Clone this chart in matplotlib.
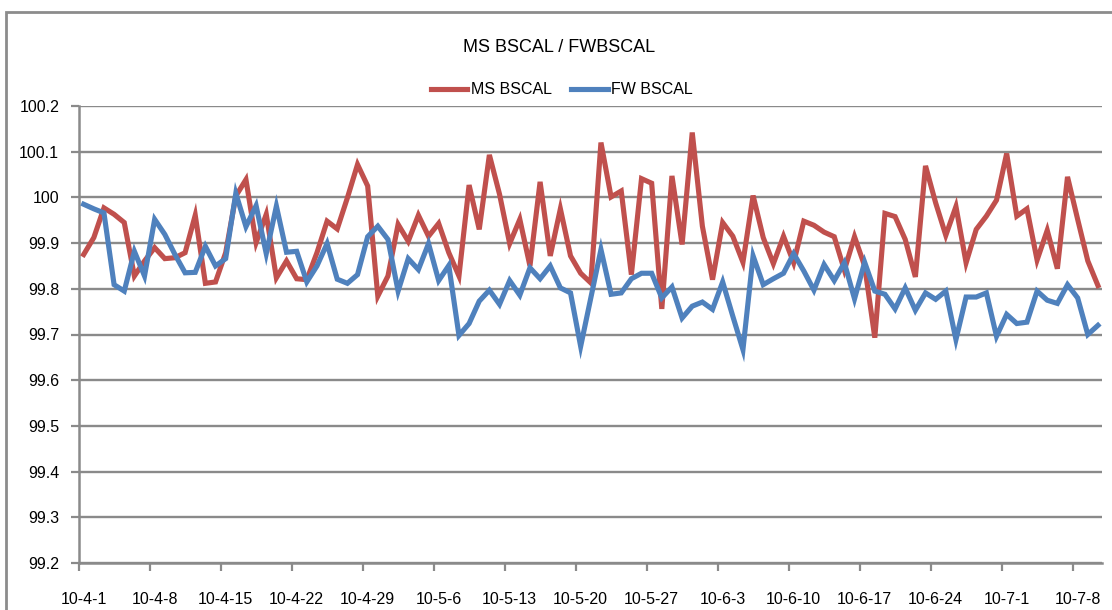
import matplotlib
matplotlib.use('Agg')
import matplotlib.pyplot as plt
from matplotlib.patches import Rectangle
import pandas as pd

plt.rcParams['font.family'] = ['Liberation Sans Narrow', 'Liberation Sans', 'DejaVu Sans']

# daily readings, 2010-04-01 .. 2010-07-10
dates = pd.date_range('2010-04-01', '2010-07-10', freq='D')

ms_bscal = [
    99.875, 99.912, 99.977, 99.963, 99.945, 99.828, 99.861, 99.890, 99.866, 99.868,
    99.879, 99.961, 99.812, 99.815, 99.879, 100.003, 100.039, 99.901, 99.963, 99.824,
    99.861, 99.822, 99.820, 99.879, 99.948, 99.931, 99.999, 100.072, 100.025, 99.784,
    99.828, 99.941, 99.904, 99.961, 99.915, 99.943, 99.879, 99.828, 100.027, 99.930,
    100.093, 100.007, 99.899, 99.952, 99.850, 100.034, 99.872, 99.975, 99.872, 99.834,
    99.813, 100.120, 100.001, 100.014, 99.831, 100.041, 100.031, 99.756, 100.047, 99.897,
    100.142, 99.937, 99.820, 99.945, 99.915, 99.858, 100.004, 99.912, 99.855, 99.915,
    99.857, 99.948, 99.939, 99.924, 99.914, 99.841, 99.914, 99.850, 99.693, 99.965,
    99.958, 99.908, 99.826, 100.069, 99.988, 99.917, 99.980, 99.857, 99.930, 99.959,
    99.994, 100.096, 99.959, 99.975, 99.863, 99.928, 99.844, 100.045, 99.952, 99.861,
    99.807,
]

fw_bscal = [
    99.985, 99.975, 99.966, 99.809, 99.795, 99.882, 99.828, 99.952, 99.919, 99.875,
    99.835, 99.836, 99.893, 99.850, 99.866, 100.009, 99.936, 99.982, 99.877, 99.981,
    99.880, 99.882, 99.815, 99.850, 99.899, 99.821, 99.812, 99.831, 99.914, 99.937,
    99.908, 99.795, 99.866, 99.842, 99.899, 99.818, 99.851, 99.698, 99.724, 99.773,
    99.797, 99.766, 99.818, 99.786, 99.846, 99.822, 99.850, 99.802, 99.791, 99.674,
    99.780, 99.886, 99.788, 99.791, 99.822, 99.834, 99.834, 99.780, 99.804, 99.736,
    99.762, 99.771, 99.755, 99.815, 99.740, 99.667, 99.872, 99.809, 99.822, 99.834,
    99.877, 99.839, 99.797, 99.853, 99.818, 99.857, 99.778, 99.858, 99.795, 99.788,
    99.756, 99.802, 99.753, 99.791, 99.777, 99.795, 99.689, 99.782, 99.782, 99.791,
    99.696, 99.744, 99.724, 99.727, 99.795, 99.775, 99.768, 99.809, 99.780, 99.700,
    99.720,
]

y_ticks = [99.2, 99.3, 99.4, 99.5, 99.6, 99.7, 99.8, 99.9, 100, 100.1, 100.2]
y_tick_labels = ['99.2', '99.3', '99.4', '99.5', '99.6', '99.7', '99.8', '99.9', '100', '100.1', '100.2']

grid_col = '#8a8a8a'
red = '#C0504D'
blue = '#4F81BD'

fig = plt.figure(figsize=(11.12, 6.10), dpi=100)
ax = fig.add_axes([78.6 / 1112, 1 - 563 / 610, (1102 - 78.6) / 1112, (563 - 106) / 610])

x = list(range(len(dates)))
ax.plot(x, ms_bscal, color=red, lw=3.7, label='MS BSCAL', solid_joinstyle='miter', zorder=3)
ax.plot(x, fw_bscal, color=blue, lw=3.7, label='FW BSCAL', solid_joinstyle='miter', zorder=4)

ax.set_ylim(99.2, 100.2)
ax.set_xlim(-0.5, len(dates) - 0.6)
ax.set_yticks(y_ticks)
ax.set_yticklabels(y_tick_labels)
ax.yaxis.grid(True, color=grid_col, lw=1.7)
ax.set_axisbelow(True)

# weekly ticks on the day boundaries, labels centred on the day
week_pos = [i for i in x if i % 7 == 0]
ax.set_xticks([p - 0.5 for p in week_pos])
ax.set_xticklabels([])
ax.set_xticks(week_pos, minor=True)
ax.set_xticklabels([f"{d.year % 100}-{d.month}-{d.day}" for d in dates[week_pos]], minor=True)

ax.tick_params(axis='x', which='major', length=6, width=1.6, color=grid_col, direction='out')
ax.tick_params(axis='x', which='minor', length=0, pad=21, labelsize=11.5)
ax.tick_params(axis='y', length=6, width=1.6, color=grid_col, pad=8, labelsize=11.5)

for s in ['top', 'right']:
    ax.spines[s].set_visible(False)
for s in ['left', 'bottom']:
    ax.spines[s].set_color(grid_col)
    ax.spines[s].set_linewidth(1.8)

fig.text(0.503, 1 - 47 / 610, 'MS BSCAL / FWBSCAL', ha='center', va='center', fontsize=13)
fig.legend(loc='center', bbox_to_anchor=(0.505, 1 - 90 / 610), ncol=2, frameon=False,
           fontsize=11.5, handlelength=2.3, handletextpad=0.2, columnspacing=1.2)

# chart area border (runs off the right and bottom edges)
fig.patches.append(Rectangle((6 / 1112, -0.1), 1.2, 1 - 12 / 610 + 0.1, transform=fig.transFigure,
                             fill=False, edgecolor='#8c8c8c', lw=2.0))

fig.savefig('out.png', dpi=100)
plt.close(fig)
